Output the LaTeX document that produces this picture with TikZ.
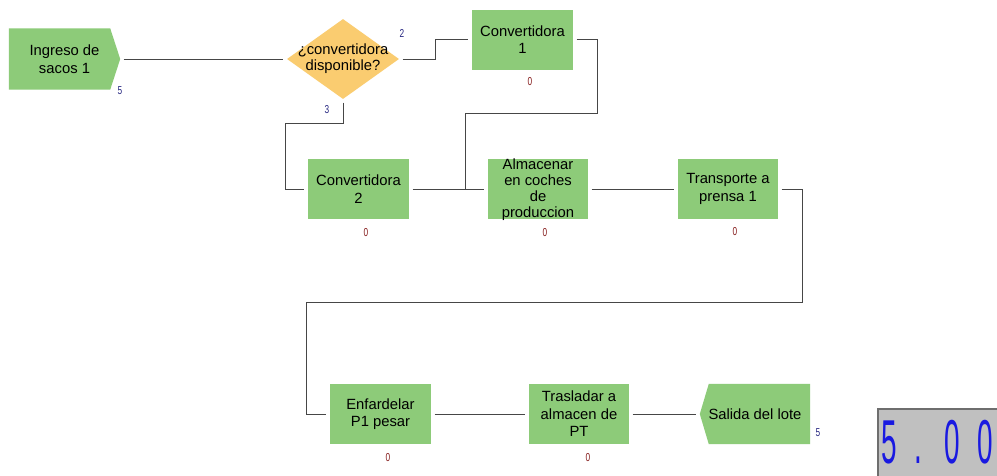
\documentclass[tikz,border=0pt]{standalone}
\usepackage{fontspec}
\setmainfont{Liberation Sans}
\usetikzlibrary{calc,shapes.geometric,backgrounds}

\definecolor{procgreen}{RGB}{141,203,121}
\definecolor{decorange}{RGB}{250,204,112}
\definecolor{wire}{RGB}{70,70,70}
\definecolor{qtyblue}{RGB}{40,40,130}
\definecolor{zerored}{RGB}{135,30,30}
\definecolor{panelgray}{RGB}{192,192,192}
\definecolor{paneledge}{RGB}{110,110,110}
\definecolor{digitblue}{RGB}{25,25,225}

\begin{document}
\begin{tikzpicture}[x=1pt,y=-1pt,
  procbox/.style={rectangle, fill=procgreen, minimum width=101pt, minimum height=60pt,
    inner sep=0pt, align=center, font=\fontsize{14.8}{17.5}\selectfont},
  portbox/.style={rectangle, minimum width=111pt, minimum height=61pt,
    inner sep=0pt, align=center, font=\fontsize{14.8}{17.5}\selectfont},
  decision/.style={diamond, fill=decorange, minimum width=112pt, minimum height=80pt,
    inner sep=0pt, font=\fontsize{14.8}{16.5}\selectfont},
  wire/.style={draw=wire, line width=0.9pt, shorten <=3.5pt, shorten >=3.5pt},
  qty/.style={font=\fontsize{11.5}{11.5}\selectfont, text=qtyblue, xscale=0.72, transform shape, inner sep=0pt},
  zero/.style={font=\fontsize{11.5}{11.5}\selectfont, text=zerored, xscale=0.72, transform shape, inner sep=0pt},
  digit/.style={font=\fontsize{62}{62}\selectfont, text=digitblue, xscale=0.45, transform shape,
    inner sep=0pt, anchor=base}
]
\clip (0,0) rectangle (997,475);

% entry and exit ports (pentagon outlines filled behind their text)
\node[portbox] (ing) at (64.5,59) {Ingreso de\\sacos 1};
\node[portbox, minimum width=110pt, minimum height=60pt] (sal) at (755,414) {Salida del lote};
\begin{scope}[on background layer]
  \fill[white] (0,0) rectangle (997,475);
  \fill[procgreen] (ing.north west) -- ($(ing.north east)+(-10,0)$) -- (ing.east)
    -- ($(ing.south east)+(-10,0)$) -- (ing.south west) -- cycle;
  \fill[procgreen] (sal.north east) -- ($(sal.north west)+(9,0)$) -- (sal.west)
    -- ($(sal.south west)+(9,0)$) -- (sal.south east) -- cycle;
\end{scope}

% decision
\node[decision] (dec) at (343,59)
  {\makebox[0pt]{\begin{tabular}{@{}c@{}}¿convertidora\\disponible?\end{tabular}}};

% process boxes
\node[procbox] (c1)  at (522.5,39.5) {Convertidora\\1};
\node[procbox] (c2)  at (358.5,189) {Convertidora\\2};
\node[procbox, minimum width=100pt] (alm) at (538,189)
  {\smash{\raisebox{-0.3em}{\fontsize{14.8}{16}\selectfont
   \begin{tabular}{@{}c@{}}Almacenar\\en coches\\de\\produccion\end{tabular}}}};
\node[procbox, minimum width=100pt] (tr)  at (728,189) {Transporte a\\prensa 1};
\node[procbox] (enf) at (380.5,414) {Enfardelar\\P1 pesar};
\node[procbox, minimum width=100pt] (tra) at (579,414) {Trasladar a\\almacen de\\PT};

% counters
\node[qty] at ($(ing)+(55.5,32)$) {5};
\node[qty] at ($(dec)+(59,-26)$) {2};
\node[qty] at ($(dec)+(-16,51)$) {3};
\node[qty] at ($(sal)+(63,19)$) {5};
\node[zero] at ($(c1)+(7.5,42.5)$) {0};
\node[zero] at ($(c2)+(7.5,44)$) {0};
\node[zero] at ($(alm)+(7,44)$) {0};
\node[zero] at ($(tr)+(7,43)$) {0};
\node[zero] at ($(enf)+(7.5,44)$) {0};
\node[zero] at ($(tra)+(9,44)$) {0};

% connectors
\coordinate (j) at ($(c2.east)!0.71!(alm.west)$);
\draw[wire] (ing.east) -- (dec.west);
\draw[wire] (dec.east) -- ++(36,0) |- (c1.west);
\draw[wire] (dec.south) -- ++(0,24) -| ($(c2.west)+(-22,0)$) -- (c2.west);
\draw[wire, shorten >=0pt] (c1.east) -- ++(24,0) -- ++(0,74) -| (j);
\draw[wire] (c2.east) -- (alm.west);
\draw[wire] (alm.east) -- (tr.west);
\draw[wire] (tr.east) -- ++(24,0) |- ($(enf.west)+(-23,-112)$) |- (enf.west);
\draw[wire] (enf.east) -- (tra.west);
\draw[wire] (tra.east) -- (sal.west);

% simulation clock display
\fill[panelgray] (878,409) rectangle (1000,480);
\draw[paneledge, line width=1.5pt] (878,480) -- (878,409) -- (1000,409);
\node[digit] (d1) at (889,463) {5};
\node[digit] (d2) at (918,463) {.};
\node[digit] (d3) at (952,463) {0};
\node[digit] (d4) at (985,463) {0};
\end{tikzpicture}
\end{document}
